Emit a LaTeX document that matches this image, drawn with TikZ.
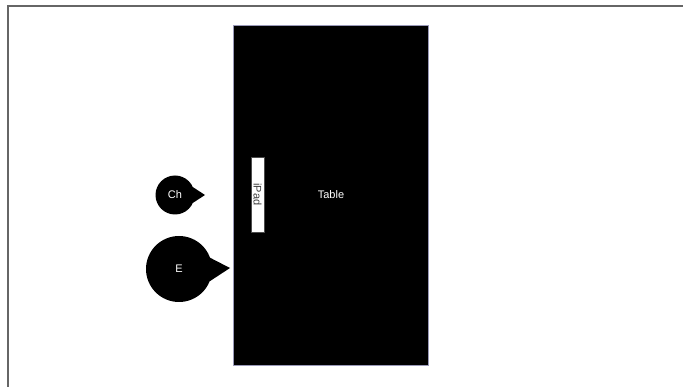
\documentclass[tikz,border=0pt]{standalone}
\usepackage{fontspec}
\setmainfont{Liberation Sans}
\begin{document}
\begin{tikzpicture}[x=1pt,y=-1pt,
  frameline/.style={draw=black!60,line width=1.3pt},
  tablebox/.style={draw=black!70!blue!40,fill=black,line width=0.4pt,inner sep=0,outer sep=0},
  bubble/.style={circle,fill=black,inner sep=0,outer sep=0,text=white,font=\fontsize{11}{13}\selectfont},
  padbox/.style={draw=black!70,fill=white,line width=0.6pt,inner sep=0,outer sep=0},
  lbl/.style={font=\fontsize{11}{13}\selectfont}]
\useasboundingbox (0,0) rectangle (683,387);
\fill[white] (0,0) rectangle (683,387);
\coordinate (fb) at (8,387);
\coordinate (fc) at (8,6);
\coordinate (fr) at (683,6);
\draw[frameline] (fb) -- (fc) -- (fr);
\node[tablebox,minimum width=195pt,minimum height=340pt] (table) at (330.5,195) {};
\node[lbl,text=white] (tabletext) at (331,195) {Table};
\node[padbox,minimum width=13pt,minimum height=75pt] (ipad) at (257.5,194.5) {};
\node[lbl,text=black!75,rotate=-90] (ipadtext) at (257.5,194.5) {iPad};
\node[bubble,minimum size=39pt] (ch) at (175,195) {Ch};
\coordinate (chtip) at (205,195);
\fill (ch.24) -- (chtip) -- (ch.-24) -- cycle;
\node[bubble,minimum size=66pt] (e) at (179,269) {E};
\coordinate (etip) at (230,268);
\fill (e.20) -- (etip) -- (e.-22) -- cycle;
\end{tikzpicture}
\end{document}
